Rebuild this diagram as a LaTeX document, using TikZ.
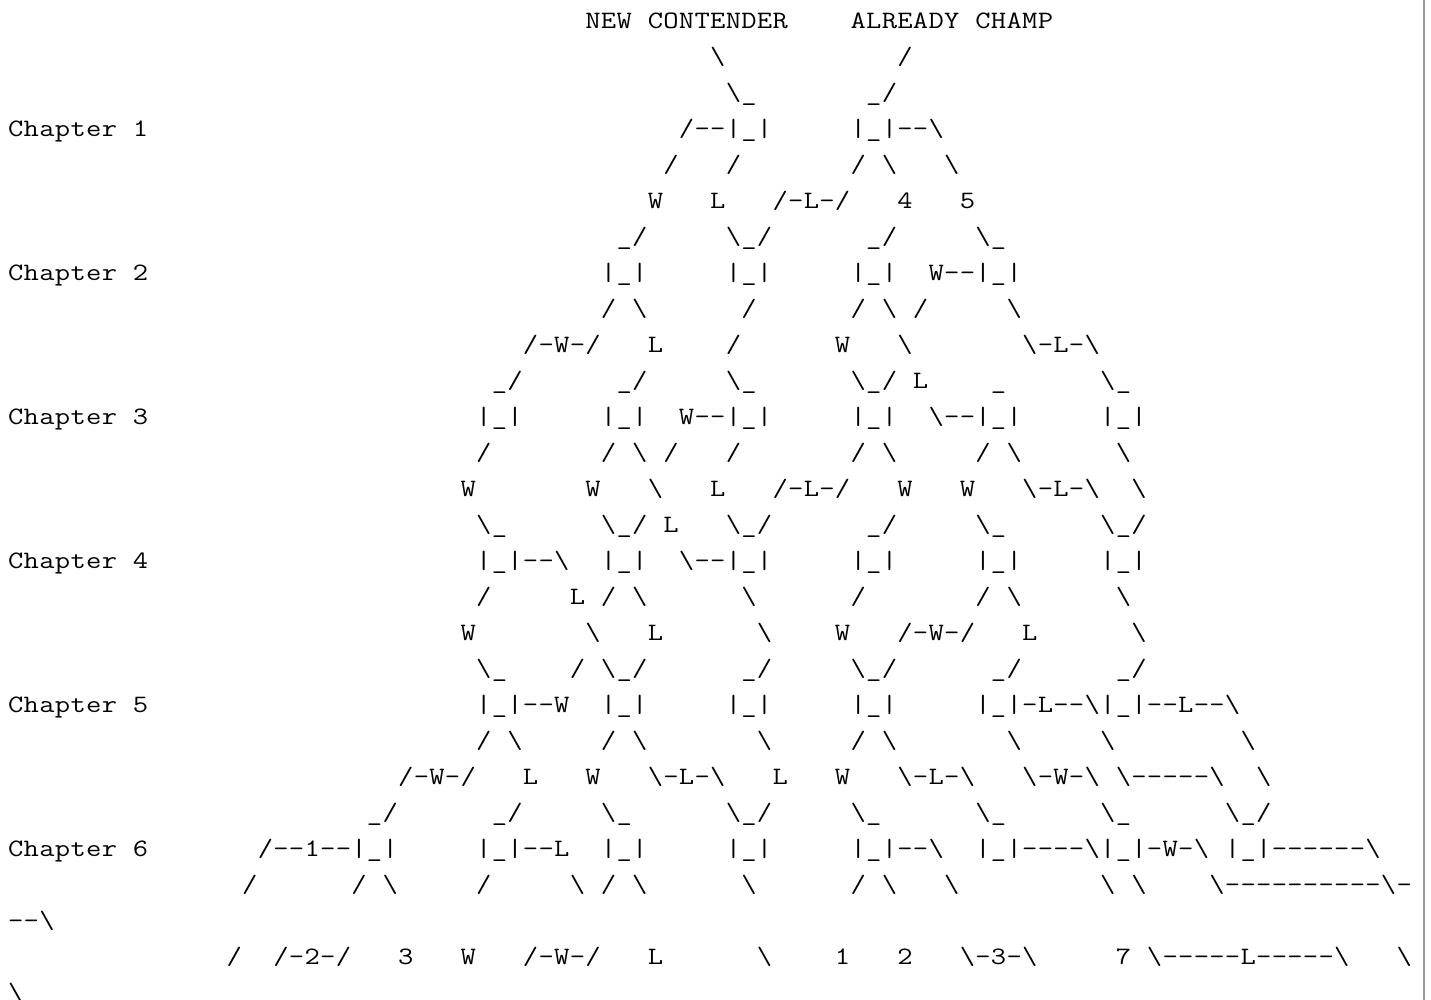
\documentclass[tikz,border=0pt]{standalone}
\usepackage{graphicx}
\makeatletter
\newcount\ar@c
\def\ar@end{\ar@end}
\def\ar@glyph#1{\scalebox{1.1886}[1]{\ifx#1!\char92\else\ifx#1_\char95\else#1\fi\fi}}
\def\ar@put#1{\ifx#1.\else
  \pgfmathsetmacro\ar@x{8+15.6*(\the\ar@c+0.5)}%
  \pgfmathsetmacro\ar@y{-(28.5+36*(\ar@r-1))}%
  \node[ch] (c\ar@r-\the\ar@c) at (\ar@x,\ar@y) {\ar@glyph#1};%
\fi}
\def\ar@loop#1{\ifx#1\ar@end\else\ar@put#1\advance\ar@c by 1\relax\expandafter\ar@loop\fi}
\newcommand\artseg[3]{\def\ar@r{#1}\ar@c=#2\relax\ar@loop#3\ar@end}
\makeatother
\begin{document}
\begin{tikzpicture}[x=1pt,y=1pt,
  ch/.style={anchor=base,inner sep=0pt,outer sep=0pt,font=\fontsize{25}{30}\selectfont\ttfamily},
  border/.style={draw=black!40,line width=1.5pt}]
\fill[white] (0,0) rectangle (1431,-1000);
\useasboundingbox (0,0) rectangle (1431,-1000);
\coordinate (bt) at (1424,0);
\coordinate (bb) at (1424,-1000);
\draw[border] (bt) -- (bb);
% row 1-3
\artseg{1}{37}{NEW.CONTENDER....ALREADY.CHAMP}
\artseg{2}{45}{!} \artseg{2}{57}{/}
\artseg{3}{46}{!_} \artseg{3}{55}{_/}
% row 4
\artseg{4}{0}{Chapter.1} \artseg{4}{43}{/--|_|} \artseg{4}{54}{|_|--!}
\artseg{5}{42}{/} \artseg{5}{46}{/} \artseg{5}{54}{/.!} \artseg{5}{60}{!}
\artseg{6}{41}{W} \artseg{6}{45}{L} \artseg{6}{49}{/-L-/} \artseg{6}{57}{4} \artseg{6}{61}{5}
\artseg{7}{39}{_/} \artseg{7}{46}{!_/} \artseg{7}{55}{_/} \artseg{7}{62}{!_}
% row 8
\artseg{8}{0}{Chapter.2} \artseg{8}{38}{|_|} \artseg{8}{46}{|_|} \artseg{8}{54}{|_|} \artseg{8}{59}{W--|_|}
\artseg{9}{38}{/.!} \artseg{9}{47}{/} \artseg{9}{54}{/.!./} \artseg{9}{64}{!}
\artseg{10}{33}{/-W-/} \artseg{10}{41}{L} \artseg{10}{46}{/} \artseg{10}{53}{W} \artseg{10}{57}{!} \artseg{10}{65}{!-L-!}
\artseg{11}{31}{_/} \artseg{11}{39}{_/} \artseg{11}{46}{!_} \artseg{11}{54}{!_/} \artseg{11}{58}{L} \artseg{11}{63}{_} \artseg{11}{70}{!_}
% row 12
\artseg{12}{0}{Chapter.3} \artseg{12}{30}{|_|} \artseg{12}{38}{|_|} \artseg{12}{43}{W--|_|} \artseg{12}{54}{|_|} \artseg{12}{59}{!--|_|} \artseg{12}{70}{|_|}
\artseg{13}{30}{/} \artseg{13}{38}{/.!./} \artseg{13}{46}{/} \artseg{13}{54}{/.!} \artseg{13}{62}{/.!} \artseg{13}{71}{!}
\artseg{14}{29}{W} \artseg{14}{37}{W} \artseg{14}{41}{!} \artseg{14}{45}{L} \artseg{14}{49}{/-L-/} \artseg{14}{57}{W} \artseg{14}{61}{W} \artseg{14}{65}{!-L-!} \artseg{14}{72}{!}
\artseg{15}{30}{!_} \artseg{15}{38}{!_/.L} \artseg{15}{46}{!_/} \artseg{15}{55}{_/} \artseg{15}{62}{!_} \artseg{15}{70}{!_/}
% row 16
\artseg{16}{0}{Chapter.4} \artseg{16}{30}{|_|--!} \artseg{16}{38}{|_|} \artseg{16}{43}{!--|_|} \artseg{16}{54}{|_|} \artseg{16}{62}{|_|} \artseg{16}{70}{|_|}
\artseg{17}{30}{/} \artseg{17}{36}{L./.!} \artseg{17}{47}{!} \artseg{17}{54}{/} \artseg{17}{62}{/.!} \artseg{17}{71}{!}
\artseg{18}{29}{W} \artseg{18}{37}{!} \artseg{18}{41}{L} \artseg{18}{48}{!} \artseg{18}{53}{W} \artseg{18}{57}{/-W-/} \artseg{18}{65}{L} \artseg{18}{72}{!}
\artseg{19}{30}{!_} \artseg{19}{36}{/.!_/} \artseg{19}{47}{_/} \artseg{19}{54}{!_/} \artseg{19}{63}{_/} \artseg{19}{71}{_/}
% row 20
\artseg{20}{0}{Chapter.5} \artseg{20}{30}{|_|--W} \artseg{20}{38}{|_|} \artseg{20}{46}{|_|} \artseg{20}{54}{|_|} \artseg{20}{62}{|_|-L--!|_|--L--!}
\artseg{21}{30}{/.!} \artseg{21}{38}{/.!} \artseg{21}{48}{!} \artseg{21}{54}{/.!} \artseg{21}{64}{!} \artseg{21}{70}{!} \artseg{21}{79}{!}
\artseg{22}{25}{/-W-/} \artseg{22}{33}{L} \artseg{22}{37}{W} \artseg{22}{41}{!-L-!} \artseg{22}{49}{L} \artseg{22}{53}{W} \artseg{22}{57}{!-L-!} \artseg{22}{65}{!-W-!} \artseg{22}{71}{!-----!} \artseg{22}{80}{!}
\artseg{23}{23}{_/} \artseg{23}{31}{_/} \artseg{23}{38}{!_} \artseg{23}{46}{!_/} \artseg{23}{54}{!_} \artseg{23}{62}{!_} \artseg{23}{70}{!_} \artseg{23}{78}{!_/}
% row 24
\artseg{24}{0}{Chapter.6} \artseg{24}{16}{/--1--|_|} \artseg{24}{30}{|_|--L} \artseg{24}{38}{|_|} \artseg{24}{46}{|_|} \artseg{24}{54}{|_|--!} \artseg{24}{62}{|_|----!|_|-W-!} \artseg{24}{78}{|_|------!}
\artseg{25}{15}{/} \artseg{25}{22}{/.!} \artseg{25}{30}{/} \artseg{25}{36}{!./.!} \artseg{25}{47}{!} \artseg{25}{54}{/.!} \artseg{25}{60}{!} \artseg{25}{70}{!.!} \artseg{25}{77}{!----------!-}
\artseg{26}{0}{--!}
\artseg{27}{14}{/} \artseg{27}{17}{/-2-/} \artseg{27}{25}{3} \artseg{27}{29}{W} \artseg{27}{33}{/-W-/} \artseg{27}{41}{L} \artseg{27}{48}{!} \artseg{27}{53}{1} \artseg{27}{57}{2} \artseg{27}{61}{!-3-!} \artseg{27}{71}{7} \artseg{27}{73}{!-----L-----!} \artseg{27}{89}{!}
\artseg{28}{0}{!}
\end{tikzpicture}
\end{document}
